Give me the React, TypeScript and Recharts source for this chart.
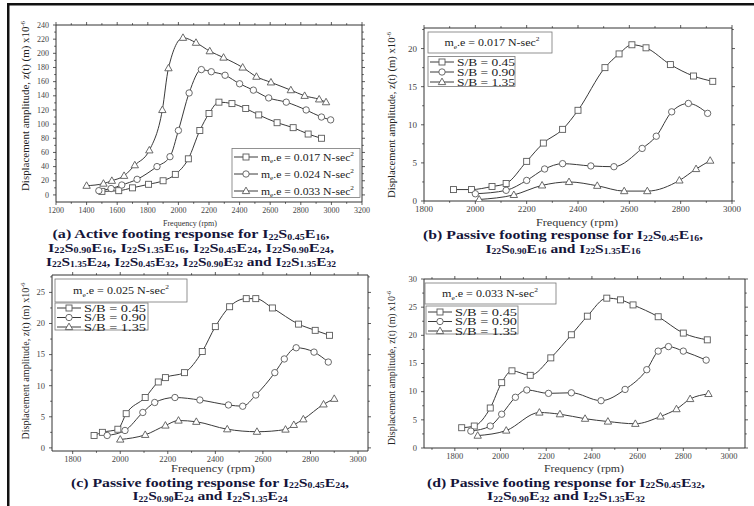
import React from 'react';
import { LineChart, Line, XAxis, YAxis } from 'recharts';

// (a) active footing, m_e.e series
const aRpm017 = [1500, 1610, 1700, 1805, 1900, 1980, 2065, 2140, 2200, 2265, 2350, 2440, 2525, 2645, 2750, 2848, 2935];
const aAmp017 = [5, 6, 10, 15, 20, 29, 51, 91, 115, 131, 129, 122, 113, 102, 95, 86, 80];
const aRpm024 = [1480, 1560, 1630, 1730, 1860, 1945, 2000, 2070, 2150, 2215, 2305, 2400, 2490, 2590, 2705, 2835, 2935, 2995];
const aAmp024 = [6, 9, 14, 22, 40, 54, 91, 144, 177, 174, 169, 157, 148, 137, 131, 120, 110, 106];
const aRpm033 = [1400, 1510, 1565, 1645, 1715, 1810, 1895, 1935, 2030, 2115, 2205, 2295, 2420, 2510, 2605, 2735, 2825, 2920, 2965];
const aAmp033 = [13, 16, 20, 27, 42, 63, 120, 179, 222, 215, 203, 194, 180, 167, 159, 148, 140, 135, 131];

// (b) passive, E16
const bRpm045 = [1915, 1985, 2065, 2120, 2200, 2265, 2340, 2400, 2505, 2560, 2610, 2665, 2760, 2850, 2925];
const bAmp045 = [1.5, 1.5, 1.9, 2.3, 5.2, 7.6, 9.4, 11.9, 17.5, 19.3, 20.5, 20.1, 17.9, 16.4, 15.7];
const bRpm090 = [2000, 2120, 2200, 2270, 2340, 2450, 2540, 2650, 2705, 2765, 2830, 2905];
const bAmp090 = [0.95, 1.4, 2.7, 4.2, 4.9, 4.6, 4.5, 6.9, 8.5, 11.7, 12.8, 11.5];
const bRpm135 = [2015, 2150, 2260, 2365, 2475, 2580, 2670, 2795, 2860, 2915];
const bAmp135 = [0.2, 0.8, 2.05, 2.5, 2.0, 1.3, 1.3, 2.7, 4.2, 5.3];

// (c) passive, E24
const cRpm045 = [1890, 1925, 1990, 2025, 2105, 2160, 2190, 2270, 2345, 2400, 2460, 2530, 2570, 2640, 2750, 2820, 2880];
const cAmp045 = [2.0, 2.5, 3.0, 5.5, 8.1, 10.6, 11.3, 12.1, 15.5, 19.5, 22.7, 24.0, 24.0, 22.5, 19.9, 18.9, 18.1];
const cRpm090 = [1945, 2020, 2095, 2145, 2230, 2335, 2455, 2515, 2570, 2650, 2690, 2740, 2815, 2875];
const cAmp090 = [2.0, 2.8, 5.7, 7.3, 8.1, 7.7, 6.9, 6.7, 8.5, 12.1, 14.3, 16.1, 15.4, 13.8];
const cRpm135 = [2000, 2105, 2190, 2245, 2320, 2450, 2575, 2695, 2730, 2770, 2855, 2900];
const cAmp135 = [1.35, 2.1, 3.6, 4.4, 4.2, 3.0, 2.6, 2.95, 3.7, 4.6, 7.0, 7.9];

// (d) passive, E32
const dRpm045 = [1830, 1885, 1955, 2005, 2050, 2130, 2220, 2310, 2380, 2465, 2525, 2580, 2690, 2800, 2905];
const dAmp045 = [3.6, 3.9, 7.1, 11.6, 13.7, 12.9, 16.0, 20.1, 23.4, 26.6, 26.3, 25.4, 23.3, 20.4, 19.2];
const dRpm090 = [1870, 1955, 2005, 2065, 2115, 2210, 2310, 2440, 2545, 2640, 2690, 2735, 2800, 2900];
const dAmp090 = [3.0, 3.9, 6.0, 9.0, 10.3, 9.7, 9.8, 8.4, 10.4, 13.9, 17.2, 18.0, 17.2, 15.6];
const dRpm135 = [1900, 2025, 2170, 2260, 2370, 2470, 2590, 2700, 2770, 2830, 2910];
const dAmp135 = [2.2, 3.1, 6.3, 6.0, 5.2, 4.7, 4.3, 5.6, 6.9, 8.7, 9.6];

// tick values
const aXTicks = [1200, 1400, 1600, 1800, 2000, 2200, 2400, 2600, 2800, 3000, 3200];
const aYTicks = [0, 20, 40, 60, 80, 100, 120, 140, 160, 180, 200, 220, 240];
const pXTicks = [1800, 2000, 2200, 2400, 2600, 2800, 3000];
const bYTicks = [0, 5, 10, 15, 20];
const cYTicks = [0, 5, 10, 15, 20, 25];
const dYTicks = [0, 5, 10, 15, 20, 25, 30];

const SHAPES = ['square', 'circle', 'triangle'];
const FONT = "'Liberation Serif', 'DejaVu Serif', serif";
const LINE = '#3a3a3a';
const MARK = '#5a5a5a';

function marker(shape: string, cx: number, cy: number, key?: any) {
  const st = { fill: '#fff', stroke: MARK, strokeWidth: 0.9 };
  if (shape === 'square') return <rect key={key} x={cx - 3} y={cy - 3} width={6} height={6} {...st} />;
  if (shape === 'circle') return <circle key={key} cx={cx} cy={cy} r={3.2} {...st} />;
  return <path key={key} d={`M${cx},${cy - 3.9}L${cx + 3.7},${cy + 2.6}L${cx - 3.7},${cy + 2.6}Z`} {...st} />;
}

// tiny markup: _{sub} and ^{sup}
function rich(s: string, fs: number, subDrop = 0.25) {
  const out: React.ReactNode[] = [];
  const re = /([_^])\{([^}]*)\}/g;
  let last = 0;
  let shift = 0;
  let k = 0;
  let m: RegExpExecArray | null;
  while ((m = re.exec(s)) !== null) {
    if (m.index > last) {
      out.push(<tspan key={k++} dy={-shift} fontSize={fs}>{s.slice(last, m.index)}</tspan>);
      shift = 0;
    }
    const d = m[1] === '_' ? fs * subDrop : -fs * 0.42;
    out.push(<tspan key={k++} dy={d - shift} fontSize={fs * 0.62}>{m[2]}</tspan>);
    shift = d;
    last = re.lastIndex;
  }
  if (last < s.length) out.push(<tspan key={k++} dy={-shift} fontSize={fs}>{s.slice(last)}</tspan>);
  return out;
}

const T = ({ x, y, s, fs, len, anchor = 'start', bold = false, fill = '#222', rot = false, drop }: any) => (
  <text x={x} y={y} fontSize={fs} fontFamily={FONT} fontWeight={bold ? 700 : 400} fill={fill}
    textAnchor={anchor} textLength={len} lengthAdjust="spacingAndGlyphs"
    transform={rot ? `rotate(-90 ${x} ${y})` : undefined}>
    {rich(s, fs, drop)}
  </text>
);

function minors(major: number[], lo: number, hi: number) {
  const step = (major[1] - major[0]) / 2;
  const res: number[] = [];
  for (let i = 0; i < major.length + 1; i++) {
    const v = major[0] + step * (2 * i - 1);
    if (v > lo && v < hi) res.push(v);
  }
  return res;
}

const ML = 44, MR = 12, MT = 12, MB = 26, YW = 36, XH = 22;

function Panel({ l, r, t, b, xDom, xMajor, yDom, yMajor, series, fs, xOff }: any) {
  const w = r - l + ML + MR;
  const h = b - t + MT + MB;
  const xAll = [...xMajor, ...minors(xMajor, xDom[0], xDom[1])].filter((v) => v >= xDom[0] && v <= xDom[1]).sort((p, q) => p - q);
  const yAll = [...yMajor, ...minors(yMajor, yDom[0], yDom[1])].filter((v) => v >= yDom[0] && v <= yDom[1]).sort((p, q) => p - q);
  const isMajor = (arr: number[], v: number) => arr.some((a) => Math.abs(a - v) < 1e-6);
  const tick = (side: string) => (p: any) => {
    const { x, y, payload } = p;
    const v = payload.value;
    const maj = isMajor(side === 'bottom' || side === 'top' ? xMajor : yMajor, v);
    const len = maj ? 3 : 1.8;
    let ln;
    if (side === 'bottom') ln = <line x1={x} x2={x} y1={y} y2={y + len} stroke="#333" strokeWidth={0.8} />;
    else if (side === 'top') ln = <line x1={x} x2={x} y1={y} y2={y - len} stroke="#333" strokeWidth={0.8} />;
    else if (side === 'left') ln = <line x1={x} x2={x - len} y1={y} y2={y} stroke="#333" strokeWidth={0.8} />;
    else ln = <line x1={x} x2={x + len} y1={y} y2={y} stroke="#333" strokeWidth={0.8} />;
    return (
      <g key={`${side}-${v}`}>
        {ln}
        {maj && side === 'bottom' && (
          <text x={x} y={y + xOff} textAnchor="middle" fontSize={fs} fontFamily={FONT} fill="#444">{v}</text>
        )}
        {maj && side === 'left' && (
          <text x={x - 7} y={y + fs * 0.33} textAnchor="end" fontSize={fs} fontFamily={FONT} fill="#444">{v}</text>
        )}
      </g>
    );
  };
  const axisLine = { stroke: '#333', strokeWidth: 1 };
  return (
    <div style={{ position: 'absolute', left: l - ML, top: t - MT }}>
      <LineChart width={w} height={h} margin={{ left: ML - YW, right: MR - 1, top: MT - 1, bottom: MB - XH }}>
        <XAxis xAxisId="b" dataKey="x" type="number" domain={xDom} ticks={xAll} interval={0} allowDataOverflow
          height={XH} tickSize={0} tickMargin={0} tickLine={false} axisLine={axisLine} tick={tick('bottom')} />
        <XAxis xAxisId="t" orientation="top" dataKey="x" type="number" domain={xDom} ticks={xAll} interval={0} allowDataOverflow
          height={1} tickSize={0} tickMargin={0} tickLine={false} axisLine={axisLine} tick={tick('top')} />
        <YAxis yAxisId="l" type="number" domain={yDom} ticks={yAll} interval={0} allowDataOverflow
          width={YW} tickSize={0} tickMargin={0} tickLine={false} axisLine={axisLine} tick={tick('left')} />
        <YAxis yAxisId="r" orientation="right" type="number" domain={yDom} ticks={yAll} interval={0} allowDataOverflow
          width={1} tickSize={0} tickMargin={0} tickLine={false} axisLine={axisLine} tick={tick('right')} />
        {series.map((s: any, i: number) => (
          <Line key={i} xAxisId="b" yAxisId="l" data={s.rpm.map((x: number, j: number) => ({ x, y: s.amp[j] }))}
            dataKey="y" type="monotone" stroke={LINE} strokeWidth={1} isAnimationActive={false}
            dot={(p: any) => marker(SHAPES[i], p.cx, p.cy, `d${i}-${p.index}`)} activeDot={false} />
        ))}
      </LineChart>
    </div>
  );
}

const LegendRow = ({ x, y, i, s, fs, len }: any) => (
  <g>
    <line x1={x} x2={x + 24} y1={y} y2={y} stroke={LINE} strokeWidth={1} />
    {marker(SHAPES[i], x + 12, y)}
    <T x={x + 27} y={y + fs * 0.34} s={s} fs={fs} len={len} />
  </g>
);

const ylab = 'Displacement amplitude, z(t) (m) x10^{-6}';
const CAP = '#15153a';

export default function App() {
  const mk = (r: number[], a: number[]) => ({ rpm: r, amp: a });
  return (
    <div style={{ position: 'absolute', left: 0, top: 0, width: 754, height: 506, background: '#fff', overflow: 'hidden' }}>
      <Panel l={56} r={362} t={25} b={202} xDom={[1200, 3200]} xMajor={aXTicks} yDom={[-10, 240]} yMajor={aYTicks}
        fs={8} xOff={11}
        series={[mk(aRpm017, aAmp017), mk(aRpm024, aAmp024), mk(aRpm033, aAmp033)]} />
      <Panel l={424} r={732} t={28} b={201} xDom={[1800, 3000]} xMajor={pXTicks} yDom={[0, 22.7]} yMajor={bYTicks}
        fs={9} xOff={11}
        series={[mk(bRpm045, bAmp045), mk(bRpm090, bAmp090), mk(bRpm135, bAmp135)]} />
      <Panel l={52} r={368} t={275} b={451} xDom={[1713, 3042]} xMajor={pXTicks} yDom={[-0.5, 27.8]} yMajor={cYTicks}
        fs={8.5} xOff={11}
        series={[mk(cRpm045, cAmp045), mk(cRpm090, cAmp090), mk(cRpm135, cAmp135)]} />
      <Panel l={424} r={745} t={279} b={448} xDom={[1665, 3070]} xMajor={pXTicks} yDom={[0, 30]} yMajor={dYTicks}
        fs={8.5} xOff={11}
        series={[mk(dRpm045, dAmp045), mk(dRpm090, dAmp090), mk(dRpm135, dAmp135)]} />

      <svg width={754} height={506} style={{ position: 'absolute', left: 0, top: 0 }}>
        {/* page frame */}
        <rect x={7} y={3} width={747} height={2.5} fill="#111" />
        <rect x={7} y={3} width={2.5} height={503} fill="#111" />

        {/* y axis titles */}
        <T x={29} y={106} s={ylab} fs={10.5} len={170} anchor="middle" rot />
        <T x={395} y={115} s={ylab} fs={10.5} len={166} anchor="middle" rot />
        <T x={29} y={361} s={ylab} fs={10.5} len={157} anchor="middle" rot />
        <T x={395} y={368} s={ylab} fs={10.5} len={154} anchor="middle" rot />

        {/* x axis titles */}
        <T x={190} y={226} s="Frequency (rpm)" fs={9} len={54} anchor="middle" fill="#333" />
        <T x={577} y={226} s="Frequency (rpm)" fs={10.5} len={82} anchor="middle" fill="#333" />
        <T x={213} y={472} s="Frequency (rpm)" fs={10.5} len={84} anchor="middle" fill="#333" />
        <T x={584} y={472} s="Frequency (rpm)" fs={10.5} len={80} anchor="middle" fill="#333" />

        {/* legend (a) */}
        <rect x={232} y={148.5} width={128} height={49} fill="#fff" stroke="#777" strokeWidth={0.8} />
        <LegendRow x={234} y={157} i={0} s="m_{e}.e = 0.017 N-sec^{2}" fs={11} len={93} />
        <LegendRow x={234} y={174} i={1} s="m_{e}.e = 0.024 N-sec^{2}" fs={11} len={93} />
        <LegendRow x={234} y={191} i={2} s="m_{e}.e = 0.033 N-sec^{2}" fs={11} len={93} />

        {/* legend (b) */}
        <rect x={428} y={32} width={124} height={21} fill="#fff" stroke="#777" strokeWidth={0.8} />
        <T x={492} y={46} s="m_{e}.e = 0.017 N-sec^{2}" fs={11} len={95} anchor="middle" />
        <rect x={428} y={56.5} width={87} height={30} fill="#fff" stroke="#777" strokeWidth={0.8} />
        <LegendRow x={430} y={62} i={0} s="S/B = 0.45" fs={10.5} len={58} />
        <LegendRow x={430} y={72} i={1} s="S/B = 0.90" fs={10.5} len={58} />
        <LegendRow x={430} y={82} i={2} s="S/B = 1.35" fs={10.5} len={58} />

        {/* legend (c) */}
        <rect x={55} y={279} width={132} height={23} fill="#fff" stroke="#777" strokeWidth={0.8} />
        <T x={121} y={294} s="m_{e}.e = 0.025 N-sec^{2}" fs={11} len={96} anchor="middle" />
        <rect x={55} y={303} width={93} height={27} fill="#fff" stroke="#777" strokeWidth={0.8} />
        <LegendRow x={57} y={308} i={0} s="S/B = 0.45" fs={10.5} len={62} />
        <LegendRow x={57} y={317.5} i={1} s="S/B = 0.90" fs={10.5} len={62} />
        <LegendRow x={57} y={327} i={2} s="S/B = 1.35" fs={10.5} len={62} />

        {/* legend (d) */}
        <rect x={425} y={283} width={131} height={21} fill="#fff" stroke="#777" strokeWidth={0.8} />
        <T x={490} y={297} s="m_{e}.e = 0.033 N-sec^{2}" fs={11} len={96} anchor="middle" />
        <rect x={426} y={306} width={92} height={28} fill="#fff" stroke="#777" strokeWidth={0.8} />
        <LegendRow x={428} y={312} i={0} s="S/B = 0.45" fs={10.5} len={62} />
        <LegendRow x={428} y={321.5} i={1} s="S/B = 0.90" fs={10.5} len={62} />
        <LegendRow x={428} y={331} i={2} s="S/B = 1.35" fs={10.5} len={62} />

        {/* captions */}
        <T x={191} y={238} s="(a) Active footing response for I_{22}S_{0.45}E_{16}," fs={12} drop={0.15} len={277} anchor="middle" bold fill={CAP} />
        <T x={191} y={251.5} s="I_{22}S_{0.90}E_{16}, I_{22}S_{1.35}E_{16}, I_{22}S_{0.45}E_{24}, I_{22}S_{0.90}E_{24}," fs={12} drop={0.15} len={286} anchor="middle" bold fill={CAP} />
        <T x={191} y={265.5} s="I_{22}S_{1.35}E_{24}, I_{22}S_{0.45}E_{32}, I_{22}S_{0.90}E_{32} and I_{22}S_{1.35}E_{32}" fs={12} drop={0.15} len={290} anchor="middle" bold fill={CAP} />

        <T x={563} y={239} s="(b) Passive footing response for I_{22}S_{0.45}E_{16}," fs={12} drop={0.15} len={280} anchor="middle" bold fill={CAP} />
        <T x={563} y={252.5} s="I_{22}S_{0.90}E_{16} and I_{22}S_{1.35}E_{16}" fs={12} drop={0.15} len={155} anchor="middle" bold fill={CAP} />

        <T x={210} y={486.5} s="(c) Passive footing response for I_{22}S_{0.45}E_{24}," fs={12} drop={0.15} len={278} anchor="middle" bold fill={CAP} />
        <T x={210} y={500} s="I_{22}S_{0.90}E_{24} and I_{22}S_{1.35}E_{24}" fs={12} drop={0.15} len={155} anchor="middle" bold fill={CAP} />

        <T x={566} y={486.5} s="(d) Passive footing response for I_{22}S_{0.45}E_{32}," fs={12} drop={0.15} len={278} anchor="middle" bold fill={CAP} />
        <T x={566} y={500} s="I_{22}S_{0.90}E_{32} and I_{22}S_{1.35}E_{32}" fs={12} drop={0.15} len={158} anchor="middle" bold fill={CAP} />
      </svg>
    </div>
  );
}
